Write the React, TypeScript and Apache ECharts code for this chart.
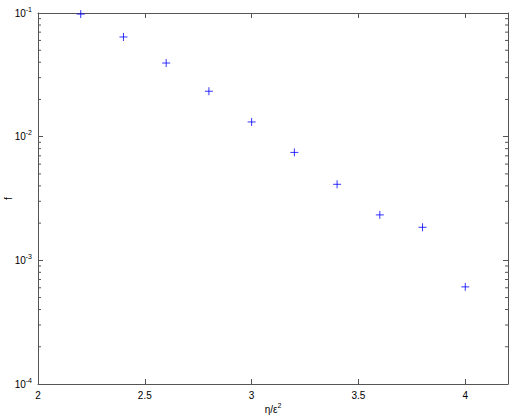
import React, { useEffect, useRef } from "react";
import * as echarts from "echarts";

const etaValues = [2.2, 2.4, 2.6, 2.8, 3.0, 3.2, 3.4, 3.6, 3.8, 4.0];
const fValues = [0.098, 0.064, 0.0394, 0.0233, 0.01315, 0.00746, 0.00412, 0.00233, 0.00185, 0.00061];
const decades = [1e-4, 1e-3, 1e-2];
const minorMultipliers = [2, 3, 4, 5, 6, 7, 8, 9];

const X_MIN = 2;
const X_MAX = 4.2;
const Y_MIN = 1e-4;
const Y_MAX = 1e-1;

const minorTickValues: number[] = [];
decades.forEach((d) => minorMultipliers.forEach((m) => minorTickValues.push(m * d)));

const FONT = "Liberation Sans, Arial, Helvetica, sans-serif";
const AXIS_COLOR = "#555555";

export default function App() {
  const ref = useRef<HTMLDivElement>(null);
  useEffect(() => {
    if (!ref.current) return;
    const chart = echarts.init(ref.current, undefined, { renderer: "svg" });
    const axisLine = { show: true, lineStyle: { color: AXIS_COLOR, width: 1 } };
    const option: any = {
      animation: false,
      backgroundColor: "#ffffff",
      textStyle: { fontFamily: FONT },
      grid: { left: 38, right: 4, top: 13, bottom: 31, containLabel: false, outerBoundsMode: "none" },
      xAxis: [
        {
          type: "value",
          min: X_MIN,
          max: X_MAX,
          interval: 0.5,
          position: "bottom",
          axisLine,
          axisTick: { show: true, inside: true, length: 5, lineStyle: { color: AXIS_COLOR } },
          splitLine: { show: false },
          axisLabel: {
            show: true,
            color: "#000",
            fontSize: 10,
            fontFamily: FONT,
            margin: 6,
            showMaxLabel: false,
            formatter: (v: number) => (Math.abs(v * 2 - Math.round(v * 2)) < 1e-9 ? String(v) : ""),
          },
          name: "η/ε{s|2}",
          nameLocation: "middle",
          nameGap: 18,
          nameMoveOverlap: false,
          nameTextStyle: {
            color: "#000",
            fontSize: 10,
            fontFamily: FONT,
            rich: { s: { fontSize: 7, padding: [0, 0, 8, 0], fontFamily: FONT, color: "#000" } },
          },
        },
        {
          type: "value",
          min: X_MIN,
          max: X_MAX,
          interval: 0.5,
          position: "top",
          axisLine,
          axisTick: { show: true, inside: true, length: 5, lineStyle: { color: AXIS_COLOR } },
          splitLine: { show: false },
          axisLabel: { show: false },
        },
      ],
      yAxis: [
        {
          type: "log",
          logBase: 10,
          min: Y_MIN,
          max: Y_MAX,
          position: "left",
          axisLine,
          axisTick: { show: true, inside: true, length: 5, lineStyle: { color: AXIS_COLOR } },
          splitLine: { show: false },
          minorTick: { show: false },
          axisLabel: {
            show: true,
            margin: 6,
            formatter: (v: number) => `{b|10}{s|${Math.round(Math.log10(v))}}`,
            rich: {
              b: { fontSize: 10, fontFamily: FONT, color: "#000" },
              s: { fontSize: 7, fontFamily: FONT, color: "#000", padding: [0, 0, 8, 0] },
            },
          },
          name: "f",
          nameLocation: "middle",
          nameGap: 25,
          nameMoveOverlap: false,
          nameTextStyle: { color: "#000", fontSize: 10, fontFamily: FONT },
        },
        {
          type: "log",
          logBase: 10,
          min: Y_MIN,
          max: Y_MAX,
          position: "right",
          axisLine,
          axisTick: { show: true, inside: true, length: 5, lineStyle: { color: AXIS_COLOR } },
          splitLine: { show: false },
          axisLabel: { show: false },
        },
      ],
      series: [
        {
          type: "custom",
          xAxisIndex: 0,
          yAxisIndex: 0,
          silent: true,
          data: minorTickValues.map((v) => [X_MIN, v]),
          renderItem: (params: any, api: any) => {
            const v = api.value(1);
            const l = api.coord([X_MIN, v]);
            const r = api.coord([X_MAX, v]);
            const style = { stroke: AXIS_COLOR, lineWidth: 1 };
            return {
              type: "group",
              children: [
                { type: "line", shape: { x1: l[0], y1: l[1], x2: l[0] + 3, y2: l[1] }, style },
                { type: "line", shape: { x1: r[0], y1: r[1], x2: r[0] - 3, y2: r[1] }, style },
              ],
            };
          },
          clip: false,
          z: 1,
        },
        {
          type: "scatter",
          xAxisIndex: 0,
          yAxisIndex: 0,
          data: etaValues.map((x, i) => [x, fValues[i]]),
          symbol: "path://M5,0 L5,10 M0,5 L10,5",
          symbolSize: 8,
          itemStyle: { color: "#0000ff", borderColor: "#0000ff", borderWidth: 1 },
          clip: false,
          z: 3,
        },
      ],
    };
    chart.setOption(option);
    return () => chart.dispose();
  }, []);
  return (
    <div
      ref={ref}
      style={{ position: "fixed", left: 0, top: 0, width: 512, height: 415, background: "#fff" }}
    />
  );
}
